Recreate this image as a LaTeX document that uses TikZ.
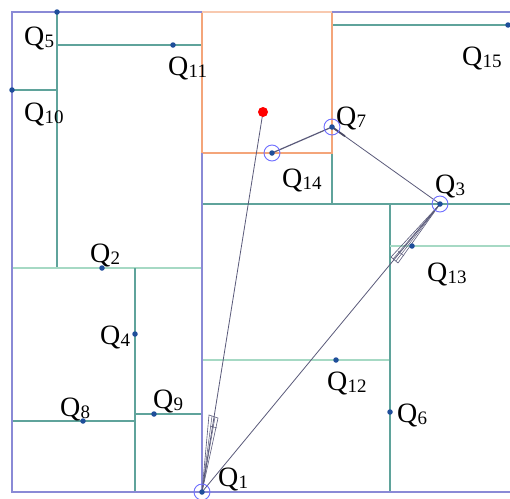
\documentclass[tikz,border=0pt]{standalone}
\usepackage{fontspec}
\usetikzlibrary{calc}
\setmainfont{Liberation Serif}
\newcommand{\ql}[1]{{\fontsize{28}{28}\selectfont Q}\kern0.3pt\raisebox{-2pt}{\fontsize{19}{19}\selectfont #1}}
\definecolor{bord}{HTML}{8A8AD6}
\definecolor{teal}{HTML}{5FA39B}
\definecolor{lgreen}{HTML}{A6D9C4}
\definecolor{orng}{HTML}{F4A57A}
\definecolor{dotc}{HTML}{1F4E9A}
\definecolor{circc}{HTML}{6E6EFF}
\definecolor{pathc}{HTML}{5A5A7A}
\tikzset{
  bordline/.style={draw=bord,line width=1.8pt},
  tealline/.style={draw=teal,line width=1.1pt},
  greenline/.style={draw=lgreen,line width=1.6pt},
  orangeline/.style={draw=orng,line width=1.1pt},
  pathline/.style={draw=pathc,line width=0.8pt},
  qdot/.style={circle,fill=dotc,inner sep=0pt,minimum size=5.5pt},
  qring/.style={circle,draw=circc,line width=0.9pt,inner sep=0pt,minimum size=16pt},
  qlabel/.style={anchor=base west,inner sep=0pt},
}
\begin{document}
\begin{tikzpicture}[x=1pt,y=-1pt]
\useasboundingbox (0,0) rectangle (510,498);
\fill[white] (0,0) rectangle (510,498);
% coordinates
\coordinate (q1) at (202,492);
\coordinate (q2) at (102,268);
\coordinate (q3) at (440,204);
\coordinate (q4) at (135,334);
\coordinate (q5) at (57,12);
\coordinate (q6) at (390,412);
\coordinate (q7) at (332,127);
\coordinate (q8) at (83,421);
\coordinate (q9) at (154,414);
\coordinate (q10) at (12,90);
\coordinate (q11) at (173,45);
\coordinate (q12) at (336,360);
\coordinate (q13) at (412,246);
\coordinate (q14) at (272,153);
\coordinate (q15) at (508,25);
\coordinate (goal) at (263,112);
% partition lines
\draw[tealline] (57,12) -- (57,268);
\draw[tealline] (57,45) -- (202,45);
\draw[tealline] (12,90) -- (57,90);
\draw[greenline] (12,268) -- (202,268);
\draw[tealline] (135,268) -- (135,492);
\draw[tealline] (12,421) -- (135,421);
\draw[tealline] (135,414) -- (202,414);
\draw[tealline] (202,204) -- (510,204);
\draw[tealline] (332,153) -- (332,204);
\draw[greenline] (202,360) -- (390,360);
\draw[tealline] (390,204) -- (390,492);
\draw[greenline] (390,246) -- (510,246);
\draw[tealline] (332,25) -- (510,25);
% orange region
\draw[orangeline] (202,12) -- (202,153) -- (332,153) -- (332,12);
\draw[draw=orng!60,line width=1.8pt] (202,12) -- (332,12);
% border
\draw[bordline] (202,12) -- (12,12) -- (12,492) -- (510,492);
\draw[bordline] (332,12) -- (510,12);
\draw[draw=bord,line width=1.1pt] (202,153) -- (202,492);
% path lines
\draw[pathline] (goal) -- (q1);
\draw[pathline] (q1) -- (q3);
\draw[pathline] (q3) -- (q7);
\draw[draw=pathc,line width=1.2pt] (q7) -- (q14);
\draw[draw=pathc!80!black,line width=1.8pt] (q7) -- ($(q7)!0.12!(q3)$);
% fan near Q1
\draw[draw=pathc,line width=0.6pt] (q1) -- (209,415) -- (218,418) -- cycle;
\draw[draw=pathc,line width=0.5pt] (q1) -- (212,416) (q1) -- (215,417) (210,426) -- (217,428);
% fan near Q3
\draw[draw=pathc,line width=0.6pt] (q3) -- (391,257) -- (398,263) -- cycle;
\draw[draw=pathc,line width=0.5pt] (q3) -- (393,259) (q3) -- (396,261) (398,251) -- (404,256);
% dots
\foreach \n in {q1,q2,q3,q4,q5,q6,q7,q8,q9,q10,q11,q12,q13,q14,q15}
  \node[qdot] (d\n) at (\n) {};
\node[qring] (r1) at (q1) {};
\node[qring] (r3) at (q3) {};
\node[qring] (r7) at (q7) {};
\node[qring] (r14) at (q14) {};
\node[circle,fill=red,inner sep=0pt,minimum size=10pt] (g) at (goal) {};
% labels
\node[qlabel] (l1) at (218,486) {\ql{1}};
\node[qlabel] (l2) at (90,262) {\ql{2}};
\node[qlabel] (l3) at (435,193) {\ql{3}};
\node[qlabel] (l4) at (100,344) {\ql{4}};
\node[qlabel] (l5) at (24,45) {\ql{5}};
\node[qlabel] (l6) at (397,422) {\ql{6}};
\node[qlabel] (l7) at (336,125) {\ql{7}};
\node[qlabel] (l8) at (60,416) {\ql{8}};
\node[qlabel] (l9) at (153,408) {\ql{9}};
\node[qlabel] (l10) at (24,121) {\ql{10}};
\node[qlabel] (l11) at (168,75) {\ql{11}};
\node[qlabel] (l12) at (327,390) {\ql{12}};
\node[qlabel] (l13) at (427,281) {\ql{13}};
\node[qlabel] (l14) at (282,187) {\ql{14}};
\node[qlabel] (l15) at (462,65) {\ql{15}};
\end{tikzpicture}
\end{document}
